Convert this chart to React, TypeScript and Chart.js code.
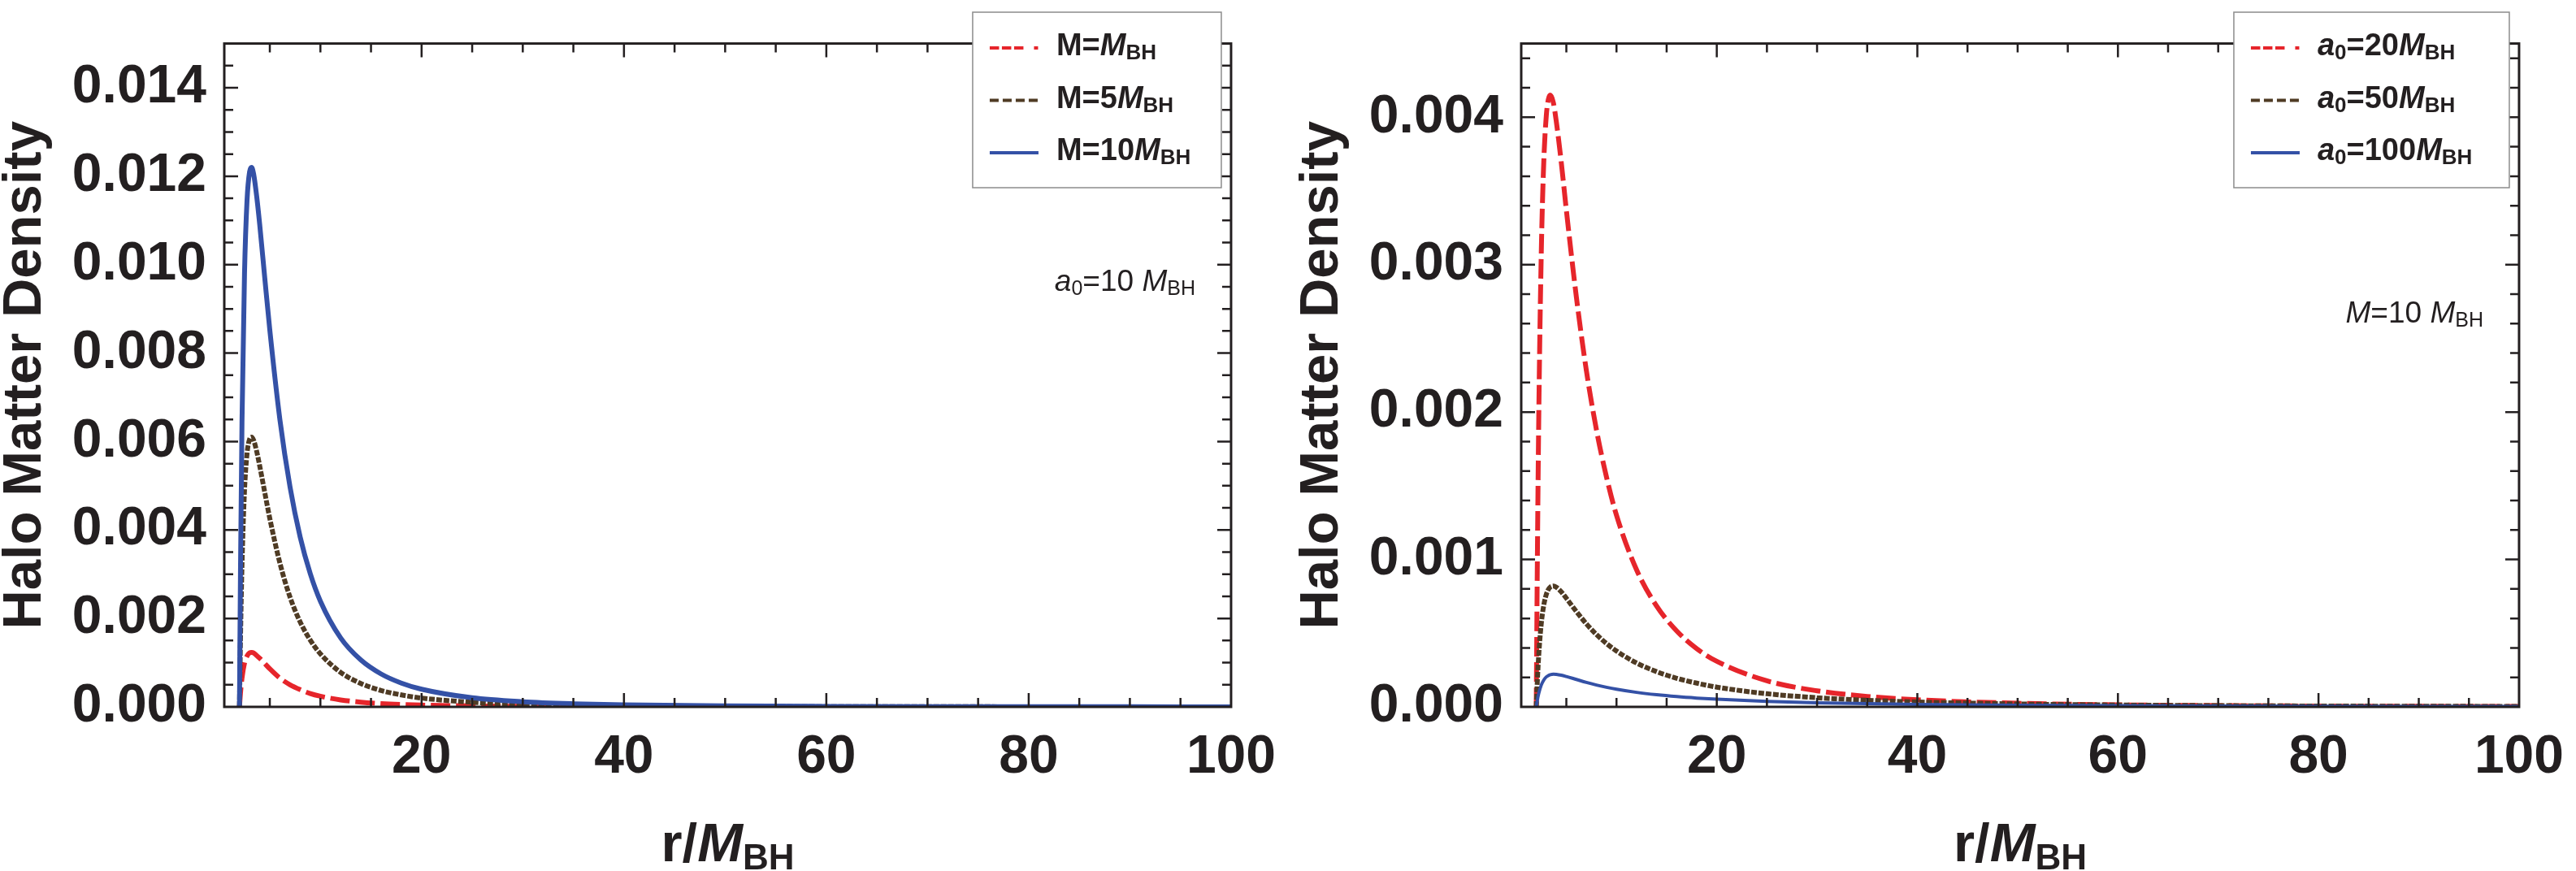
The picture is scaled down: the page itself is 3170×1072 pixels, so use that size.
import React, { useEffect, useRef } from "react";
import { Chart, registerables } from "chart.js";

Chart.register(...registerables);

// ---------- data ----------
const rValues = [2, 2.1, 2.25, 2.5, 2.75, 3, 3.2, 3.4, 3.7, 4, 4.5, 5, 6, 7, 8, 9, 10, 12, 14, 16, 18, 20, 25, 30, 35, 40, 50, 60, 70, 80, 90, 100];

// left panel, a0 = 10 M_BH
const densM1 = [0, 0.00031, 0.00065, 0.00099, 0.00115, 0.00122, 0.00123, 0.00122, 0.00116, 0.0011, 0.00098, 0.00086, 0.00065, 0.0005, 0.00039, 0.0003, 0.00024, 0.000157, 0.000107, 0.000075, 0.000054, 0.00004, 0.000021, 0.0000117, 0.0000071, 0.0000046, 0.0000021, 0.0000011, 0.00000065, 0.0000004, 0.00000026, 0.00000017];
const densM5 = [0, 0.00153, 0.00321, 0.0049, 0.00573, 0.00605, 0.0061, 0.00603, 0.00578, 0.00545, 0.00485, 0.00426, 0.00325, 0.00248, 0.00192, 0.00151, 0.0012, 0.00078, 0.00053, 0.00037, 0.00027, 0.0002, 0.000103, 0.000058, 0.000035, 0.000023, 0.0000106, 0.0000056, 0.0000032, 0.000002, 0.0000013, 0.00000085];
const densM10 = [0, 0.00306, 0.00643, 0.00981, 0.01146, 0.0121, 0.0122, 0.01205, 0.01155, 0.01091, 0.0097, 0.00852, 0.00649, 0.00497, 0.00384, 0.00301, 0.00239, 0.00156, 0.00106, 0.000744, 0.000538, 0.000399, 0.000205, 0.000116, 0.0000708, 0.0000455, 0.0000212, 0.0000112, 0.0000065, 0.000004, 0.0000026, 0.0000017];

// right panel, M = 10 M_BH
const densA20 = [0, 0.00092, 0.00197, 0.00308, 0.0037, 0.00401, 0.00412, 0.00415, 0.0041, 0.00397, 0.00369, 0.00337, 0.00278, 0.00228, 0.00188, 0.00156, 0.0013, 0.00093, 0.000684, 0.000515, 0.000395, 0.000309, 0.000177, 0.000109, 0.000071, 0.000048, 0.0000246, 0.0000138, 0.0000084, 0.0000053, 0.0000036, 0.0000025];
const densA50 = [0, 0.000164, 0.000354, 0.000565, 0.00069, 0.000763, 0.000796, 0.000813, 0.00082, 0.000812, 0.00078, 0.000737, 0.000647, 0.000563, 0.000491, 0.00043, 0.000379, 0.000298, 0.000239, 0.000194, 0.000161, 0.000134, 0.0000892, 0.0000621, 0.0000449, 0.0000333, 0.0000196, 0.0000124, 0.0000082, 0.0000057, 0.0000041, 0.000003];
const densA100 = [0, 0.0000425, 0.000092, 0.000148, 0.000182, 0.000203, 0.000212, 0.000218, 0.000222, 0.000221, 0.000215, 0.000206, 0.000186, 0.000166, 0.000148, 0.000133, 0.00012, 0.0000985, 0.0000823, 0.0000698, 0.0000599, 0.0000519, 0.0000375, 0.0000282, 0.0000218, 0.0000172, 0.0000113, 0.0000078, 0.0000056, 0.0000042, 0.0000032, 0.0000024];

const xTicks = [20, 40, 60, 80, 100];
const leftYTicks = [0, 0.002, 0.004, 0.006, 0.008, 0.01, 0.012, 0.014];
const rightYTicks = [0, 0.001, 0.002, 0.003, 0.004];

const leftLabels = ["M=<i>M</i><sub>BH</sub>", "M=5<i>M</i><sub>BH</sub>", "M=10<i>M</i><sub>BH</sub>"];
const rightLabels = ["<i>a</i><sub>0</sub>=20<i>M</i><sub>BH</sub>", "<i>a</i><sub>0</sub>=50<i>M</i><sub>BH</sub>", "<i>a</i><sub>0</sub>=100<i>M</i><sub>BH</sub>"];
const leftNote = "<i>a</i><sub>0</sub>=10 <i>M</i><sub>BH</sub>";
const rightNote = "<i>M</i>=10 <i>M</i><sub>BH</sub>";
const xTitle = "r/<i>M</i><sub>BH</sub>";
const yTitle = "Halo Matter Density";

// ---------- styling ----------
const FONT = "'Liberation Sans', Arial, Helvetica, sans-serif";
const INK = "#231f20";
const RED = "#e6252b";
const BROWN = "#4f3b24";
const BLUE = "#3451a6";
const W = 1585;
const H = 1072;
const PLOT_BOTTOM = 870;

type Seg = { t: string; i: boolean; sub: boolean };
type RichStyle = { size: number; subSize: number; subShift: number; weight: string };

function parseRich(s: string): Seg[] {
  const segs: Seg[] = [];
  const re = /<(\/?)(i|sub)>/g;
  let italic = false;
  let sub = false;
  let last = 0;
  let m: RegExpExecArray | null;
  while ((m = re.exec(s))) {
    if (m.index > last) segs.push({ t: s.slice(last, m.index), i: italic, sub });
    const on = m[1] !== "/";
    if (m[2] === "i") italic = on;
    else sub = on;
    last = re.lastIndex;
  }
  if (last < s.length) segs.push({ t: s.slice(last), i: italic, sub });
  return segs;
}

function segFont(seg: Seg, st: RichStyle) {
  return `${seg.i ? "italic " : ""}${st.weight} ${seg.sub ? st.subSize : st.size}px ${FONT}`;
}

function drawRich(ctx: CanvasRenderingContext2D, s: string, x: number, y: number, st: RichStyle, align: "left" | "center" | "right") {
  const segs = parseRich(s);
  let w = 0;
  for (const seg of segs) {
    ctx.font = segFont(seg, st);
    w += ctx.measureText(seg.t).width;
  }
  let cx = align === "center" ? x - w / 2 : align === "right" ? x - w : x;
  ctx.textAlign = "left";
  ctx.textBaseline = "alphabetic";
  for (const seg of segs) {
    ctx.font = segFont(seg, st);
    ctx.fillText(seg.t, cx, y + (seg.sub ? st.subShift : 0));
    cx += ctx.measureText(seg.t).width;
  }
}

type Series = { label: string; values: number[]; color: string; dash: number[]; width: number; legendDash: number[] };
type PanelCfg = {
  series: Series[];
  yMax: number;
  yTicks: number[];
  yMajor: number;
  yMinor: number;
  plotLeft: number;
  plotRight: number;
  legendWidth: number;
  note: string;
  noteBaseline: number;
  left: number;
};

const leftPanel: PanelCfg = {
  series: [
    { label: leftLabels[0], values: densM1, color: RED, dash: [24, 7], width: 6, legendDash: [11.5, 3.5, 11.5, 3.5, 11.5, 13, 5, 60] },
    { label: leftLabels[1], values: densM5, color: BROWN, dash: [7, 2], width: 6, legendDash: [11, 5] },
    { label: leftLabels[2], values: densM10, color: BLUE, dash: [], width: 6, legendDash: [] },
  ],
  yMax: 0.015,
  yTicks: leftYTicks,
  yMajor: 0.002,
  yMinor: 0.0005,
  plotLeft: 276,
  plotRight: 1518,
  legendWidth: 306,
  note: leftNote,
  noteBaseline: 358,
  left: 0,
};

const rightPanel: PanelCfg = {
  series: [
    { label: rightLabels[0], values: densA20, color: RED, dash: [24, 7], width: 6, legendDash: [11.5, 3.5, 11.5, 3.5, 11.5, 13, 5, 60] },
    { label: rightLabels[1], values: densA50, color: BROWN, dash: [7, 2], width: 6, legendDash: [11, 5] },
    { label: rightLabels[2], values: densA100, color: BLUE, dash: [], width: 4, legendDash: [] },
  ],
  yMax: 0.0045,
  yTicks: rightYTicks,
  yMajor: 0.001,
  yMinor: 0.0002,
  plotLeft: 287,
  plotRight: 1528,
  legendWidth: 339,
  note: rightNote,
  noteBaseline: 397,
  left: 1585,
};

function makeDecor(cfg: PanelCfg) {
  return {
    id: "decor",
    afterDraw(chart: any) {
      const { ctx, chartArea: a, scales } = chart;
      const xs = scales.x;
      const ys = scales.y;
      ctx.save();
      ctx.strokeStyle = INK;
      ctx.lineCap = "butt";
      ctx.setLineDash([]);
      // inward ticks, all four sides
      ctx.lineWidth = 2.5;
      ctx.beginPath();
      for (let v = 5; v < 100 - 1e-9; v += 5) {
        const px = xs.getPixelForValue(v);
        const len = v % 20 === 0 ? 17 : 11;
        ctx.moveTo(px, a.bottom);
        ctx.lineTo(px, a.bottom - len);
        ctx.moveTo(px, a.top);
        ctx.lineTo(px, a.top + len);
      }
      for (let k = 1; k * cfg.yMinor < cfg.yMax - cfg.yMinor * 0.01; k++) {
        const v = k * cfg.yMinor;
        const r = v / cfg.yMajor;
        const major = Math.abs(r - Math.round(r)) < 1e-6;
        const len = major ? 17 : 11;
        const py = ys.getPixelForValue(v);
        ctx.moveTo(a.left, py);
        ctx.lineTo(a.left + len, py);
        ctx.moveTo(a.right, py);
        ctx.lineTo(a.right - len, py);
      }
      ctx.stroke();
      // frame
      ctx.lineWidth = 3;
      ctx.strokeRect(a.left, a.top, a.right - a.left, a.bottom - a.top);

      // y title
      ctx.fillStyle = INK;
      ctx.save();
      ctx.translate(a.left - 226, (a.top + a.bottom) / 2);
      ctx.rotate(-Math.PI / 2);
      ctx.font = `bold 67px ${FONT}`;
      ctx.textAlign = "center";
      ctx.textBaseline = "alphabetic";
      ctx.fillText(yTitle, 0, 0);
      ctx.restore();

      // x title
      drawRich(ctx, xTitle, (a.left + a.right) / 2, 1060, { size: 67, subSize: 44, subShift: 10, weight: "bold" }, "center");

      // legend
      const bRight = a.right - 12;
      const bLeft = bRight - cfg.legendWidth;
      const bTop = 15;
      const bBottom = 231;
      ctx.fillStyle = "#ffffff";
      ctx.fillRect(bLeft, bTop, bRight - bLeft, bBottom - bTop);
      ctx.strokeStyle = "#8c8c8c";
      ctx.lineWidth = 1.5;
      ctx.strokeRect(bLeft, bTop, bRight - bLeft, bBottom - bTop);
      const rows = [59, 123.5, 188];
      cfg.series.forEach((s, k) => {
        const y = rows[k];
        ctx.save();
        ctx.strokeStyle = s.color;
        ctx.lineWidth = 4;
        ctx.setLineDash(s.legendDash);
        ctx.beginPath();
        ctx.moveTo(bLeft + 21, y);
        ctx.lineTo(bLeft + 81, y);
        ctx.stroke();
        ctx.restore();
        ctx.fillStyle = INK;
        drawRich(ctx, s.label, bLeft + 103, y + 9, { size: 38, subSize: 26, subShift: 5, weight: "bold" }, "left");
      });

      // annotation
      ctx.fillStyle = INK;
      drawRich(ctx, cfg.note, a.right - 44, cfg.noteBaseline, { size: 37, subSize: 25, subShift: 5, weight: "normal" }, "right");
      ctx.restore();
    },
  };
}

function Panel({ cfg }: { cfg: PanelCfg }) {
  const ref = useRef<HTMLCanvasElement | null>(null);
  useEffect(() => {
    if (!ref.current) return;
    const n = cfg.series.length;
    const chart = new Chart(ref.current, {
      type: "line",
      data: {
        datasets: cfg.series.map((s, k) => ({
          label: s.label,
          data: rValues.map((r, j) => ({ x: r, y: s.values[j] })),
          borderColor: s.color,
          borderWidth: s.width,
          borderDash: s.dash,
          borderCapStyle: "butt",
          pointRadius: 0,
          fill: false,
          cubicInterpolationMode: "monotone",
          order: n - k,
        })),
      },
      options: {
        responsive: false,
        animation: false,
        devicePixelRatio: 1,
        layout: { padding: { left: 0, right: W - cfg.plotRight, top: 1.5, bottom: 0 } },
        plugins: { legend: { display: false }, tooltip: { enabled: false } },
        scales: {
          x: {
            type: "linear",
            min: 0.5,
            max: 100,
            grid: { display: false },
            border: { display: false },
            afterBuildTicks: (s: any) => {
              s.ticks = xTicks.map((v) => ({ value: v }));
            },
            afterFit: (s: any) => {
              s.height = H - PLOT_BOTTOM;
            },
            ticks: {
              autoSkip: false,
              maxRotation: 0,
              padding: 15,
              color: INK,
              font: { family: FONT, size: 66, weight: "bold" },
              callback: (v: any) => String(v),
            },
          },
          y: {
            type: "linear",
            min: 0,
            max: cfg.yMax,
            grid: { display: false },
            border: { display: false },
            afterBuildTicks: (s: any) => {
              s.ticks = cfg.yTicks.map((v) => ({ value: v }));
            },
            afterFit: (s: any) => {
              s.width = cfg.plotLeft;
            },
            ticks: {
              autoSkip: false,
              padding: 14,
              color: INK,
              font: { family: FONT, size: 66, weight: "bold" },
              callback: (v: any) => Number(v).toFixed(3),
            },
          },
        },
      } as any,
      plugins: [makeDecor(cfg)],
    });
    return () => chart.destroy();
  }, [cfg]);
  return (
    <canvas
      ref={ref}
      width={W}
      height={H}
      style={{ position: "absolute", left: cfg.left, top: 0, width: W, height: H }}
    />
  );
}

export default function App() {
  useEffect(() => {
    document.body.style.margin = "0";
    document.body.style.background = "#ffffff";
  }, []);
  return (
    <div style={{ position: "relative", width: 3170, height: 1072, background: "#ffffff", overflow: "hidden" }}>
      <Panel cfg={leftPanel} />
      <Panel cfg={rightPanel} />
    </div>
  );
}
